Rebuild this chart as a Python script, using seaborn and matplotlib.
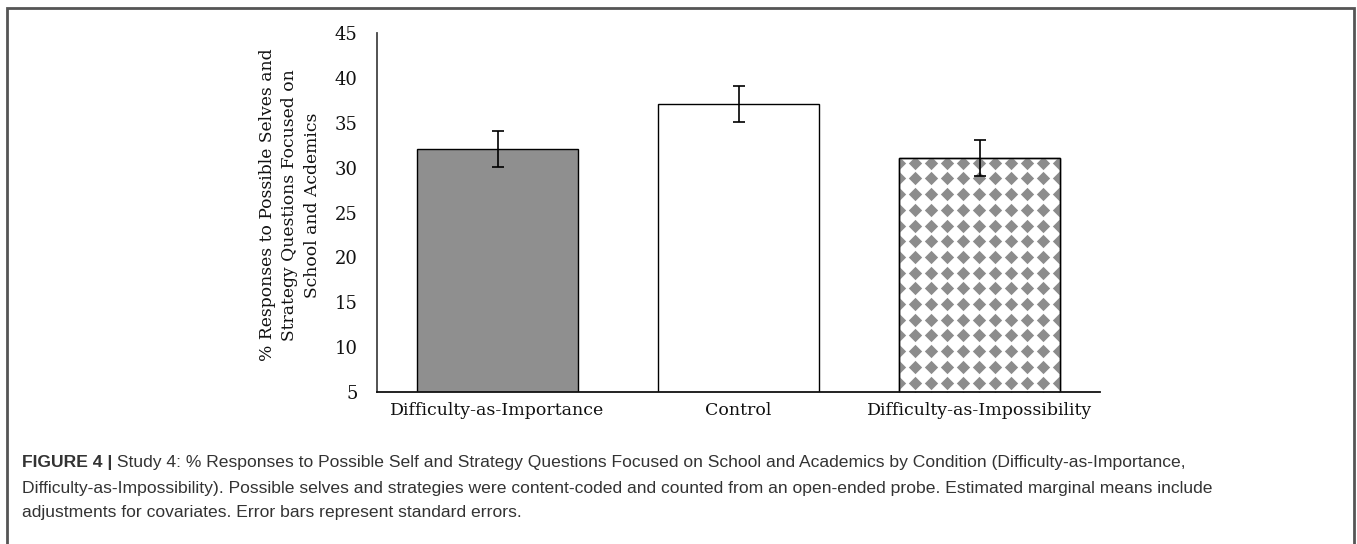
import matplotlib
matplotlib.use("Agg")
import matplotlib.pyplot as plt
import seaborn as sns
import pandas as pd
import numpy as np
from matplotlib.patches import Rectangle
from matplotlib.path import Path

# ---------------- data ----------------
conditions = ["Difficulty-as-Importance", "Control", "Difficulty-as-Impossibility"]
means = [32.1, 37.1, 31.1]
std_errors = [2.0, 2.0, 2.0]
y_ticks = [5, 10, 15, 20, 25, 30, 35, 40, 45]
y_label = "% Responses to Possible Selves and\nStrategy Questions Focused on\nSchool and Acdemics"
caption_bold = "FIGURE 4 |"
caption_first = (" Study 4: % Responses to Possible Self and Strategy Questions Focused on School and "
                 "Academics by Condition (Difficulty-as-Importance,")
caption_rest = [
    "Difficulty-as-Impossibility). Possible selves and strategies were content-coded and counted "
    "from an open-ended probe. Estimated marginal means include",
    "adjustments for covariates. Error bars represent standard errors.",
]
bar_colors = ["#8f8f8f", "#ffffff", "#ffffff"]
pattern_color = "#8c8c8c"

# ---------------- style ----------------
sns.set_theme(style="white")
plt.rcParams["font.family"] = ["DejaVu Serif"]

W, H = 1357, 544
fig = plt.figure(figsize=(W / 100, H / 100), dpi=100)
ax = fig.add_axes([377 / W, 1 - 392 / H, (1100 - 377) / W, (392 - 33) / H])

df = pd.DataFrame({"condition": conditions, "mean": means})
sns.barplot(data=df, x="condition", y="mean", hue="condition", order=conditions,
            hue_order=conditions, palette=bar_colors, width=0.668, edgecolor="black",
            linewidth=1.0, legend=False, errorbar=None, saturation=1, ax=ax)

ax.set_ylim(5, 45)
ax.set_yticks(y_ticks)
ax.set_yticklabels([str(t) for t in y_ticks])
ax.set_xlim(-0.5, 2.5)
ax.set_xlabel("")
ax.set_ylabel("")
ax.tick_params(axis="y", length=0, pad=14, labelsize=13, labelcolor="#111111")
ax.tick_params(axis="x", length=0, pad=7, labelsize=12.5, labelcolor="#111111")
for s in ["top", "right"]:
    ax.spines[s].set_visible(False)
ax.spines["left"].set_color("#444444")
ax.spines["left"].set_linewidth(1.3)
ax.spines["bottom"].set_color("#111111")
ax.spines["bottom"].set_linewidth(1.3)
ax.grid(False)

# diamond fill pattern for the third bar (clipped to the visible part of the bar)
fig.canvas.draw()
p3 = [p for p in ax.patches if abs(p.get_x() + p.get_width() / 2 - 2) < 0.1][0]
ybot = ax.get_ylim()[0]
clip_rect = Rectangle((p3.get_x(), ybot), p3.get_width(), p3.get_y() + p3.get_height() - ybot,
                      transform=ax.transData, facecolor="none", edgecolor="none")
ax.add_patch(clip_rect)
bb = p3.get_window_extent()
step_x, step_y = 16.0, 15.7
xs = np.arange(bb.x0, bb.x1 + step_x, step_x)
ys = np.arange(bb.y1 - 5, ax.bbox.y0 - step_y, -step_y)
gx, gy = np.meshgrid(xs, ys)
pts = ax.transData.inverted().transform(np.column_stack([gx.ravel(), gy.ravel()]))
diamond = Path([(0, 1), (1, 0), (0, -1), (-1, 0), (0, 1)],
               [Path.MOVETO, Path.LINETO, Path.LINETO, Path.LINETO, Path.CLOSEPOLY])
sc = ax.scatter(pts[:, 0], pts[:, 1], marker=diamond, s=92, color=pattern_color,
                linewidths=0, zorder=p3.get_zorder() + 0.1)
sc.set_clip_path(clip_rect)
ax.add_patch(Rectangle((p3.get_x(), p3.get_y()), p3.get_width(), p3.get_height(),
                       fill=False, edgecolor="black", linewidth=1.0,
                       zorder=p3.get_zorder() + 0.2))

ax.errorbar(x=np.arange(len(means)), y=means, yerr=std_errors, fmt="none",
            ecolor="black", elinewidth=1.2, capsize=4.5, capthick=1.2, zorder=5)

# y label
fig.text(290 / W, 1 - 205 / H, y_label, rotation=90, ha="center", va="center",
         multialignment="center", fontsize=12.3, color="#111111", linespacing=1.45)

# caption
cap_kw = dict(family=["Liberation Sans", "DejaVu Sans"], fontsize=12.6, color="#333333")
t1 = fig.text(22 / W, 1 - 463 / H, caption_bold, ha="left", va="center",
              fontweight="bold", **cap_kw)
ax.annotate(caption_first, xy=(1, 0.5), xycoords=t1, ha="left", va="center",
            annotation_clip=False, **cap_kw)
for i, line in enumerate(caption_rest):
    fig.text(22 / W, 1 - (488 + 25 * i) / H, line, ha="left", va="center", **cap_kw)

# frame around figure
fig.patches.append(Rectangle((7 / W, -0.05), (1354 - 7) / W, 1 - 8 / H + 0.05,
                             transform=fig.transFigure, fill=False,
                             edgecolor="#555555", linewidth=2.0))

fig.savefig("out.png", dpi=100)
